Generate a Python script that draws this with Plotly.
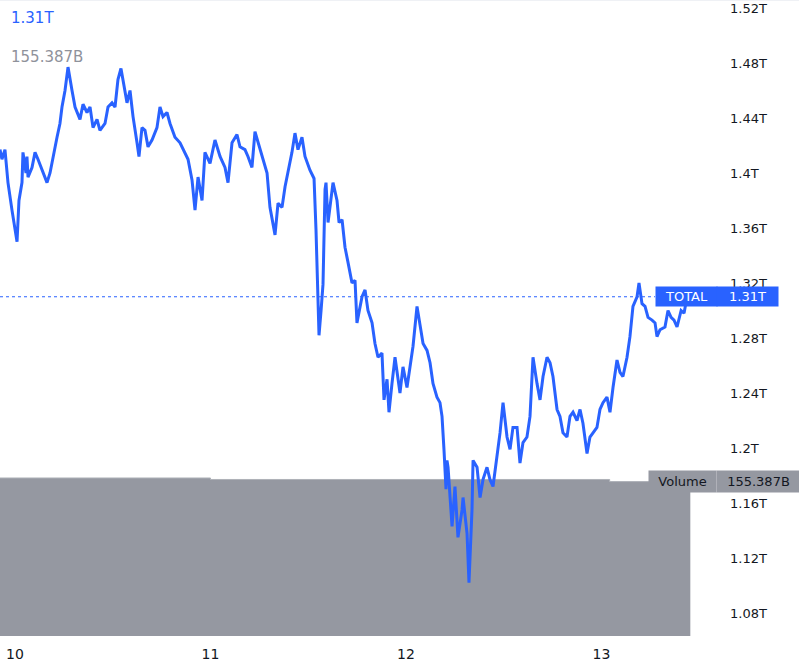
import plotly.graph_objects as go

# ---- data (hours from day 10 00:00, total market cap in trillions) ----
hours = [-1.84, -1.60, -1.23, -0.86, -0.37, 0.00, 0.25, 0.49, 0.86, 0.98, 1.35, 1.47, 1.60, 2.09, 2.46, 2.82,
         3.31, 3.93, 4.30, 4.66, 5.16, 5.52, 5.77, 6.14, 6.51, 7.00, 7.37, 7.98, 8.35, 8.84, 9.21, 9.58,
         10.07, 10.43, 11.05, 11.42, 11.91, 12.28, 12.64, 13.01, 13.26, 13.75, 14.12, 14.49, 14.98, 15.22,
         15.59, 15.96, 16.33, 16.82, 17.43, 17.80, 18.17, 18.66, 19.03, 19.64, 20.26, 20.87, 21.24, 21.73,
         22.10, 22.47, 22.96, 23.32, 23.94, 24.55, 25.17, 25.78, 26.15, 26.64, 27.25, 27.62, 28.23, 28.60,
         29.09, 29.46, 29.83, 30.44, 30.94, 31.30, 31.67, 31.92, 32.29, 32.78, 33.15, 33.51, 34.00, 34.37,
         34.74, 35.23, 35.60, 36.21, 36.71, 36.95, 37.20, 37.32, 37.57, 37.81, 38.06, 38.18, 38.43, 38.79,
         39.04, 39.53, 39.78, 40.15, 40.51, 40.88, 41.37, 41.74, 41.98, 42.60, 42.97, 43.33, 43.83, 44.19,
         44.56, 45.05, 45.30, 45.67, 45.91, 46.28, 46.65, 47.26, 47.63, 48.12, 48.49, 48.86, 49.35, 49.72,
         50.09, 50.58, 50.95, 51.31, 51.80, 52.17, 52.42, 52.66, 52.91, 53.03, 53.16, 53.65, 54.01, 54.38,
         54.88, 55.00, 55.49, 55.73, 56.10, 56.23, 56.72, 57.09, 57.45, 57.94, 58.31, 58.68, 59.17, 59.54,
         59.91, 60.40, 60.77, 61.13, 61.63, 61.99, 62.36, 62.85, 63.22, 63.59, 64.08, 64.45, 64.82, 65.31,
         65.68, 66.04, 66.54, 66.90, 67.27, 67.76, 68.13, 68.50, 68.99, 69.36, 69.72, 70.22, 70.58, 70.95,
         71.44, 71.81, 72.18, 72.67, 73.04, 73.41, 73.90, 74.27, 74.63, 75.13, 75.49, 75.86, 76.36, 76.60,
         76.97, 77.34, 77.71, 78.20, 78.57, 78.81, 79.18, 79.79, 80.16, 80.54, 80.90, 81.27, 81.77, 82.13,
         82.50]
total_t = [1.417, 1.410, 1.417, 1.393, 1.373, 1.359, 1.350, 1.380, 1.393, 1.415, 1.400, 1.412, 1.397, 1.404, 1.415, 1.410,
           1.402, 1.393, 1.400, 1.412, 1.426, 1.436, 1.448, 1.460, 1.477, 1.460, 1.448, 1.439, 1.450, 1.444, 1.448, 1.433,
           1.439, 1.431, 1.436, 1.448, 1.451, 1.448, 1.468, 1.476, 1.468, 1.451, 1.460, 1.441, 1.422, 1.412,
           1.433, 1.431, 1.419, 1.424, 1.433, 1.448, 1.441, 1.444, 1.436, 1.426, 1.422, 1.415, 1.410, 1.395,
           1.373, 1.397, 1.380, 1.415, 1.407, 1.424, 1.412, 1.404, 1.393, 1.422, 1.428, 1.419, 1.417, 1.412,
           1.404, 1.430, 1.422, 1.410, 1.400, 1.375, 1.364, 1.355, 1.378, 1.375, 1.390, 1.400, 1.415, 1.429,
           1.417, 1.426, 1.412, 1.402, 1.396, 1.359, 1.308, 1.282, 1.300, 1.319, 1.388, 1.393, 1.364, 1.380,
           1.393, 1.380, 1.364, 1.366, 1.346, 1.335, 1.320, 1.322, 1.291, 1.310, 1.315, 1.300, 1.291, 1.276,
           1.266, 1.269, 1.235, 1.250, 1.226, 1.247, 1.266, 1.240, 1.259, 1.244, 1.259, 1.274, 1.303, 1.291,
           1.276, 1.271, 1.262, 1.247, 1.237, 1.233, 1.223, 1.199, 1.170, 1.191, 1.186, 1.143, 1.172, 1.135,
           1.155, 1.164, 1.138, 1.102, 1.155, 1.191, 1.186, 1.164, 1.177, 1.186, 1.177, 1.172, 1.193, 1.211,
           1.233, 1.208, 1.199, 1.215, 1.215, 1.189, 1.204, 1.208, 1.223, 1.266, 1.247, 1.235, 1.252, 1.266,
           1.262, 1.252, 1.228, 1.223, 1.211, 1.208, 1.223, 1.226, 1.220, 1.228, 1.218, 1.196, 1.208, 1.211,
           1.215, 1.228, 1.233, 1.237, 1.226, 1.244, 1.264, 1.255, 1.252, 1.266, 1.281, 1.303, 1.310, 1.320,
           1.305, 1.303, 1.295, 1.293, 1.291, 1.281, 1.286, 1.288, 1.300, 1.295, 1.293, 1.288, 1.300, 1.298,
           1.310]

vol_hours = [-2.0, 24.0, 73.0, 82.9]
volume_b = [159.0, 157.5, 155.387, 155.387]

last_total = 1.31
last_total_label = "1.31T"
last_volume_label = "155.387B"

day_ticks = [0, 24, 48, 72]
day_labels = ["10", "11", "12", "13"]
price_ticks = [1.08, 1.12, 1.16, 1.20, 1.24, 1.28, 1.32, 1.36, 1.40, 1.44, 1.48, 1.52]
price_labels = ["1.08T", "1.12T", "1.16T", "1.2T", "1.24T", "1.28T", "1.32T", "1.36T", "1.4T", "1.44T", "1.48T", "1.52T"]

BLUE = "#2962ff"
GREY = "#9598a1"
TXT = "#131722"
FONT = "DejaVu Sans"

W, H = 799, 664
PANE_W = 715       # pixel width of the chart pane
PANE_H = 636

fig = go.Figure()

fig.add_trace(go.Scatter(
    x=vol_hours, y=volume_b, mode="lines", line=dict(shape="hv", color="#aeb1b8", width=1),
    fill="tozeroy", fillcolor=GREY, yaxis="y", hoverinfo="skip", showlegend=False))

fig.add_trace(go.Scatter(
    x=hours, y=total_t, mode="lines", line=dict(color=BLUE, width=3),
    yaxis="y2", showlegend=False))


def px(p):
    return p / PANE_W


fig.update_layout(
    width=W, height=H,
    margin=dict(l=0, r=W - PANE_W, t=0, b=H - PANE_H),
    paper_bgcolor="white", plot_bgcolor="white",
    font=dict(family=FONT, color=TXT, size=13),
    xaxis=dict(range=[-1.84, 85.93], tickvals=day_ticks, ticktext=day_labels,
               showgrid=False, zeroline=False, showline=False, ticks="",
               ticklabelstandoff=8, tickfont=dict(size=14, color=TXT)),
    yaxis=dict(range=[0, 640], visible=False, fixedrange=True),
    yaxis2=dict(range=[1.0633, 1.5258], overlaying="y", side="right",
                tickvals=price_ticks, ticktext=price_labels, showgrid=False,
                zeroline=False, showline=False, ticks="", ticklabelstandoff=14,
                tickfont=dict(size=13, color=TXT)),
    shapes=[
        dict(type="line", xref="paper", yref="y2", x0=0, x1=px(655), y0=last_total, y1=last_total,
             line=dict(color=BLUE, width=1, dash="dot"), layer="below"),
        dict(type="line", xref="paper", yref="paper", x0=0, x1=W / PANE_W, y0=1, y1=1,
             line=dict(color="#e0e3eb", width=1)),
        dict(type="line", xref="paper", yref="y2", x0=px(716), x1=px(716),
             y0=last_total - 0.0065, y1=last_total + 0.0065,
             line=dict(color="rgba(255,255,255,0.35)", width=1)),
    ],
    annotations=[
        dict(text=last_total_label, xref="paper", yref="paper", x=px(9), y=1 - 18 / PANE_H,
             xanchor="left", yanchor="middle", showarrow=False, font=dict(size=15, color=BLUE)),
        dict(text=last_volume_label, xref="paper", yref="paper", x=px(9), y=1 - 57 / PANE_H,
             xanchor="left", yanchor="middle", showarrow=False, font=dict(size=15, color="#8f929b")),
        dict(text="TOTAL", xref="paper", yref="y2", x=px(655), y=last_total, xanchor="left",
             yanchor="middle", showarrow=False, width=61, height=19, bgcolor=BLUE, borderpad=0,
             font=dict(size=13, color="white"), align="center"),
        dict(text=last_total_label, xref="paper", yref="y2", x=px(716), y=last_total, xanchor="left",
             yanchor="middle", showarrow=False, width=61, height=19, bgcolor=BLUE, borderpad=0,
             font=dict(size=13, color="white"), align="center"),
        dict(text="Volume", xref="paper", yref="y", x=px(648), y=volume_b[-1], xanchor="left",
             yanchor="middle", showarrow=False, width=67, height=21, bgcolor=GREY, borderpad=0,
             font=dict(size=13, color=TXT), align="center"),
        dict(text=last_volume_label, xref="paper", yref="y", x=px(716), y=volume_b[-1], xanchor="left",
             yanchor="middle", showarrow=False, width=83, height=21, bgcolor=GREY, borderpad=0,
             font=dict(size=13, color=TXT), align="center"),
    ],
)

fig.write_html(
    "out.html",
    config={"displayModeBar": False},
    post_script="document.body.style.margin='0';document.body.style.overflow='hidden';",
)
